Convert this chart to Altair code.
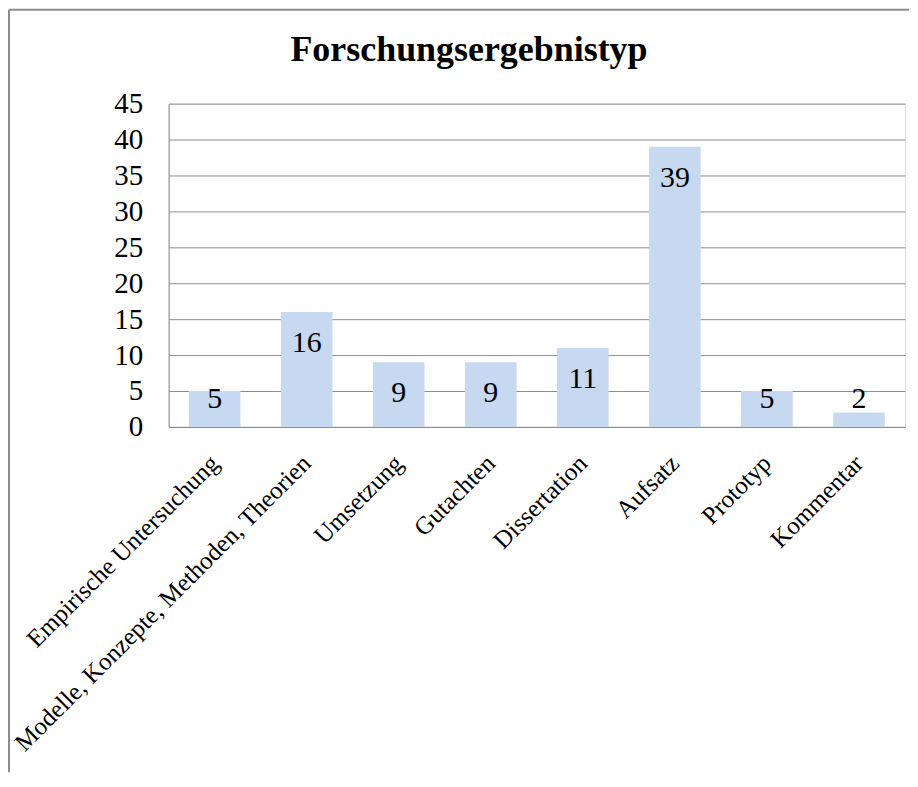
import altair as alt
import pandas as pd

categories = [
    "Empirische Untersuchung",
    "Modelle, Konzepte, Methoden, Theorien",
    "Umsetzung",
    "Gutachten",
    "Dissertation",
    "Aufsatz",
    "Prototyp",
    "Kommentar",
]
values = [5, 16, 9, 9, 11, 39, 5, 2]
y_ticks = [0, 5, 10, 15, 20, 25, 30, 35, 40, 45]

df = pd.DataFrame({"typ": categories, "anzahl": values})

FONT = "Liberation Serif"
GRAY = "#8c8c8c"

x_axis = alt.Axis(
    labelAngle=-45,
    labelAlign="right",
    labelBaseline="middle",
    labelFont=FONT,
    labelFontSize=25,
    labelColor="#000000",
    labelPadding=32,
    ticks=False,
    domainColor=GRAY,
    labelLimit=600,
    labelOverlap=False,
)
x_scale = alt.Scale(paddingInner=0.44, paddingOuter=0.22)

y_axis = alt.Axis(
    values=y_ticks,
    labelFont=FONT,
    labelFontSize=29,
    labelColor="#000000",
    labelOverlap=False,
    ticks=False,
    labelPadding=26,
    domainColor=GRAY,
    gridColor=GRAY,
    gridWidth=1,
)
y_scale = alt.Scale(domain=[0, 45], nice=False)

bars = alt.Chart(df).mark_bar(color="#c6d9f0").encode(
    x=alt.X("typ:N", sort=categories, title=None, scale=x_scale, axis=x_axis),
    y=alt.Y("anzahl:Q", title=None, scale=y_scale, axis=y_axis),
)

labels = (
    alt.Chart(df)
    .transform_calculate(pos="max(datum.anzahl - 4.3, 3.9)")
    .mark_text(font=FONT, fontSize=30, color="#000000", baseline="middle")
    .encode(
        x=alt.X("typ:N", sort=categories, title=None, scale=x_scale, axis=x_axis),
        y=alt.Y("pos:Q", title=None, scale=y_scale, axis=y_axis),
        text="anzahl:Q",
    )
)

frame_df = pd.DataFrame({"k": [0]})
frame_top = alt.Chart(frame_df).mark_rule(color=GRAY, strokeWidth=2).encode(
    x=alt.value(-160), x2=alt.value(742), y=alt.value(-94)
)
frame_left = alt.Chart(frame_df).mark_rule(color=GRAY, strokeWidth=2).encode(
    x=alt.value(-160), y=alt.value(-94), y2=alt.value(670)
)

chart = (
    alt.layer(bars, labels, frame_top, frame_left)
    .properties(
        width=738,
        height=324,
        title=alt.TitleParams(
            "Forschungsergebnistyp",
            font=FONT,
            fontSize=36,
            fontWeight="bold",
            color="#000000",
            anchor="middle",
            frame="group",
            dx=-68,
            offset=-60,
        ),
        padding={"left": 0, "top": 0, "right": 0, "bottom": 0},
    )
    .configure_view(stroke=None)
    .configure(background="white")
)

chart.save("out.html", embed_options={"renderer": "svg", "actions": False})
